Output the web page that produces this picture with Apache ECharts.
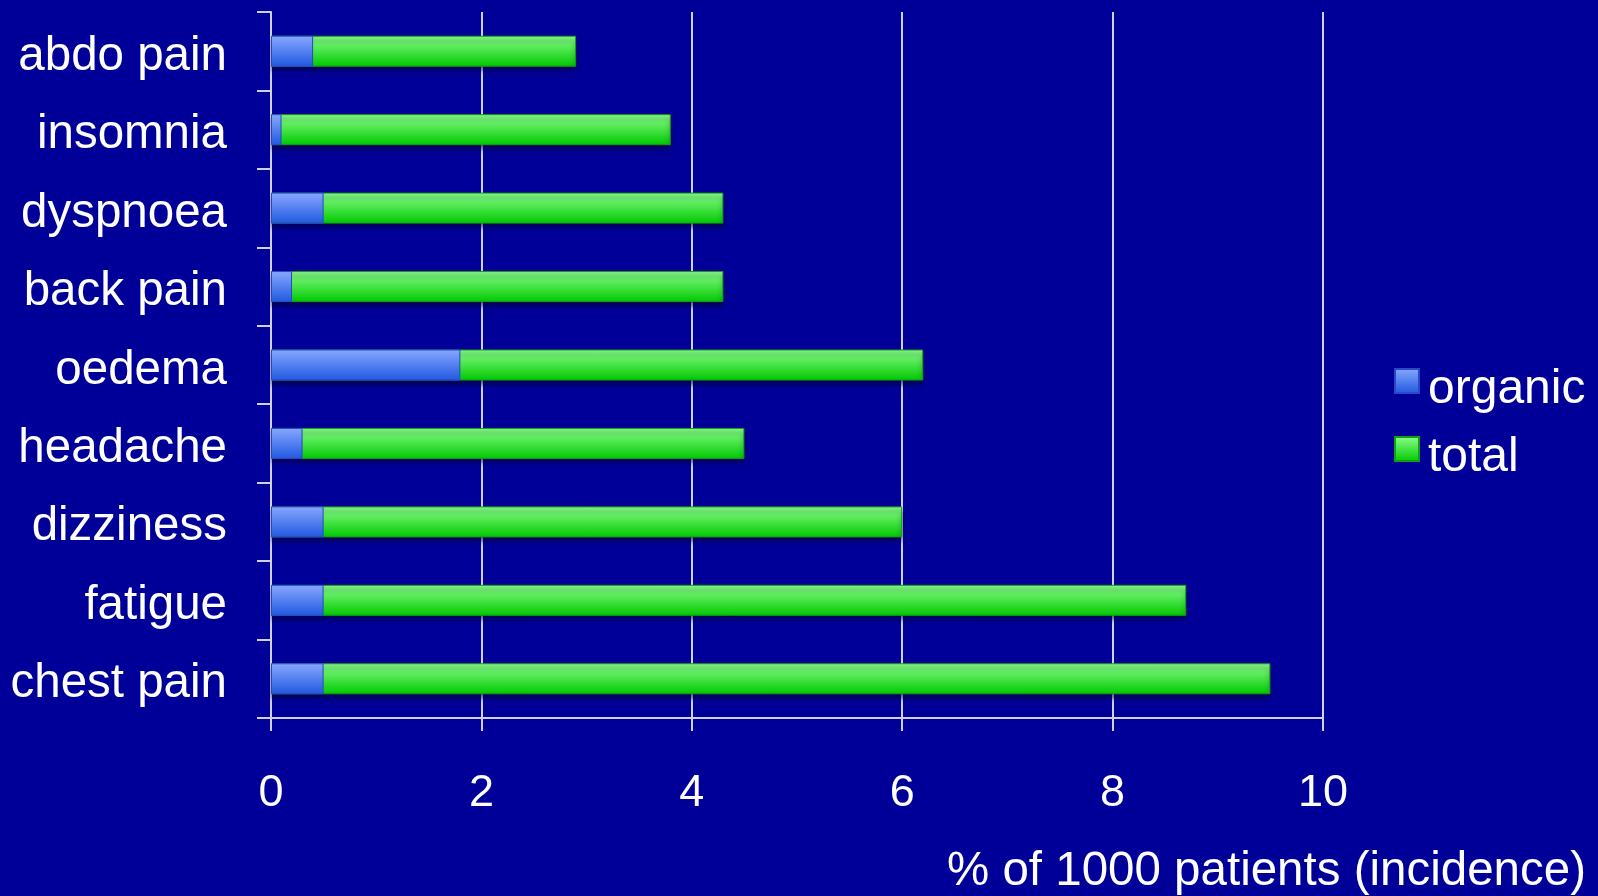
<!DOCTYPE html>
<html>
<head>
<meta charset="utf-8">
<title>Symptoms: organic cause vs total incidence</title>
<script src="https://cdn.jsdelivr.net/npm/echarts@6/dist/echarts.min.js"></script>
<style>
  html, body { margin: 0; padding: 0; background: #000099; }
  #chart { width: 1598px; height: 896px; }
</style>
</head>
<body>
<div id="chart"></div>
<script>
// Symptoms, listed top to bottom
const categories = ['abdo pain', 'insomnia', 'dyspnoea', 'back pain', 'oedema', 'headache', 'dizziness', 'fatigue', 'chest pain'];
// Incidence with an organic cause (%)
const organic = [0.4, 0.1, 0.5, 0.2, 1.8, 0.3, 0.5, 0.5, 0.5];
// Total incidence (%)
const total = [2.9, 3.8, 4.3, 4.3, 6.2, 4.5, 6.0, 8.7, 9.5];
// Value axis ticks
const xTicks = [0, 2, 4, 6, 8, 10];

const FONT = '"Liberation Sans", Arial, sans-serif';
const TEXT = '#ffffff';
const LINE = '#d0d0e8';

function vGrad(top, bottom) {
  return new echarts.graphic.LinearGradient(0, 0, 0, 1, [
    { offset: 0, color: top },
    { offset: 1, color: bottom }
  ]);
}

const chart = echarts.init(document.getElementById('chart'), null, { renderer: 'canvas' });

chart.setOption({
  backgroundColor: '#000099',
  animation: false,
  textStyle: { fontFamily: FONT },
  title: {
    text: '% of 1000 patients (incidence)',
    right: 12,
    top: 848,
    padding: 0,
    textStyle: { color: TEXT, fontFamily: FONT, fontSize: 47.5, fontWeight: 'normal' }
  },
  legend: {
    data: ['organic', 'total'],
    orient: 'vertical',
    left: 1394,
    top: 366,
    itemWidth: 24,
    itemHeight: 24,
    itemGap: 20,
    icon: 'rect',
    padding: 0,
    formatter: name => '{t|' + name + '}',
    textStyle: {
      color: TEXT, fontFamily: FONT, fontSize: 48,
      rich: {
        t: { color: TEXT, fontFamily: FONT, fontSize: 48, padding: [18, 0, 0, 4] }
      }
    }
  },
  grid: { left: 271, right: 275, top: 12, bottom: 178, containLabel: false },
  xAxis: {
    type: 'value',
    min: xTicks[0],
    max: xTicks[xTicks.length - 1],
    interval: 2,
    axisLine: { show: true, lineStyle: { color: LINE, width: 2 } },
    axisTick: { show: true, length: 13, lineStyle: { color: LINE, width: 2 } },
    splitLine: { show: true, lineStyle: { color: LINE, width: 2 } },
    axisLabel: {
      color: TEXT, fontFamily: FONT, fontSize: 45, margin: 53,
      customValues: xTicks
    }
  },
  yAxis: {
    type: 'category',
    data: categories,
    inverse: true,
    axisLine: { show: true, lineStyle: { color: LINE, width: 2 } },
    axisTick: { show: true, length: 14, lineStyle: { color: LINE, width: 2 } },
    splitLine: { show: false },
    axisLabel: {
      color: TEXT, fontFamily: FONT, fontSize: 47.5, margin: 44,
      verticalAlign: 'top', lineHeight: 11
    }
  },
  series: [
    {
      name: 'total',
      type: 'bar',
      data: total,
      barWidth: 31,
      barGap: '-100%',
      itemStyle: {
        color: vGrad('#8cff8c', '#00c800'),
        borderColor: '#10a010',
        borderWidth: 1,
        shadowColor: 'rgba(0,0,40,0.6)',
        shadowBlur: 5,
        shadowOffsetY: 4
      }
    },
    {
      name: 'organic',
      type: 'bar',
      data: organic,
      barWidth: 31,
      barGap: '-100%',
      itemStyle: {
        color: vGrad('#88a8ff', '#2058e0'),
        borderColor: '#2848c8',
        borderWidth: 1
      }
    }
  ]
});
</script>
</body>
</html>
